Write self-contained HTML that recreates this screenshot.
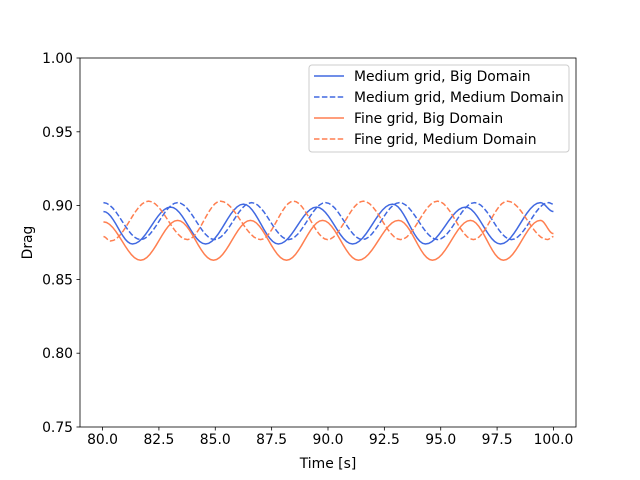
<!DOCTYPE html>
<html><head><meta charset="utf-8"><style>
body{margin:0;background:#fff}
svg{display:block;font-family:"DejaVu Sans","Liberation Sans",sans-serif}
</style></head><body>
<svg id="chart" width="640" height="480" xmlns="http://www.w3.org/2000/svg"></svg>
<script>
const xTicks=[80.0,82.5,85.0,87.5,90.0,92.5,95.0,97.5,100.0];
const yTicks=[0.75,0.80,0.85,0.90,0.95,1.00];
const seriesNames=["Medium grid, Big Domain","Medium grid, Medium Domain","Fine grid, Big Domain","Fine grid, Medium Domain"];
const mbT=[80.04,81.33,83.02,84.57,86.25,87.80,89.49,91.09,92.86,94.32,96.10,97.65,99.42,100.0];
const mbV=[0.896,0.874,0.899,0.874,0.901,0.874,0.899,0.874,0.901,0.874,0.899,0.874,0.902,0.896];
const mmT=[80.04,81.69,83.33,84.97,86.61,88.25,89.89,91.53,93.17,94.86,96.50,98.14,99.78,100.0];
const mmV=[0.902,0.877,0.902,0.877,0.902,0.877,0.902,0.877,0.902,0.877,0.902,0.877,0.902,0.901];
const fbT=[80.04,81.69,83.33,84.92,86.56,88.16,89.76,91.35,93.13,94.63,96.32,97.78,99.42,100.0];
const fbV=[0.889,0.863,0.890,0.863,0.890,0.863,0.890,0.863,0.890,0.863,0.890,0.863,0.890,0.881];
const fmT=[80.04,80.35,82.04,83.77,85.23,87.01,88.47,89.98,91.57,93.22,94.86,96.45,97.96,99.73,100.0];
const fmV=[0.879,0.876,0.903,0.877,0.903,0.877,0.903,0.877,0.903,0.877,0.903,0.877,0.903,0.877,0.879];

const L=80,R=576,T=58,B=427,xmin=79.0,xmax=101.0,ymin=0.75,ymax=1.0;
const sx=v=>L+(v-xmin)/(xmax-xmin)*(R-L);
const sy=v=>B-(v-ymin)/(ymax-ymin)*(B-T);
const svg=document.getElementById('chart');
const NS="http://www.w3.org/2000/svg";
function mk(tag,attrs,parent){const e=document.createElementNS(NS,tag);for(const k in attrs)e.setAttribute(k,attrs[k]);(parent||svg).appendChild(e);return e;}

function pathFor(ts,vs){
  let d="M"+sx(ts[0]).toFixed(2)+","+sy(vs[0]).toFixed(2);
  for(let i=0;i<ts.length-1;i++){
    for(let k=1;k<=12;k++){
      const f=k/12,w=(1-Math.cos(Math.PI*f))/2;
      const t=ts[i]+(ts[i+1]-ts[i])*f, v=vs[i]+(vs[i+1]-vs[i])*w;
      d+=" L"+sx(t).toFixed(2)+","+sy(v).toFixed(2);
    }
  }
  return d;
}
const series=[[mbT,mbV,"#4169e1",""],[mmT,mmV,"#4169e1","5.5,2.4"],[fbT,fbV,"#ff7f50",""],[fmT,fmV,"#ff7f50","5.5,2.4"]];
const ids=["medium-big-line","medium-medium-line","fine-big-line","fine-medium-line"];
series.forEach((s,i)=>{
  const p=mk('path',{d:pathFor(s[0],s[1]),fill:"none",stroke:s[2],"stroke-width":1.5,"stroke-dasharray":s[3]});
  
  
});

const frame=mk('rect',{x:L,y:T,width:R-L,height:B-T,fill:"none",stroke:"#000","stroke-width":0.8});



xTicks.forEach(v=>{
  const x=sx(v);
  mk('line',{x1:x,x2:x,y1:B,y2:B+3.5,stroke:"#000","stroke-width":0.8});
  const t=mk('text',{x:x,y:B+17,"text-anchor":"middle","font-size":"13.9px",fill:"#000"});
  t.textContent=v.toFixed(1);
  
  
});
yTicks.forEach(v=>{
  const y=sy(v);
  mk('line',{x1:L-3.5,x2:L,y1:y,y2:y,stroke:"#000","stroke-width":0.8});
  const t=mk('text',{x:L-7,y:y+5,"text-anchor":"end","font-size":"13.9px",fill:"#000"});
  t.textContent=v.toFixed(2);
  
  
});
const xl=mk('text',{x:(L+R)/2,y:468,"text-anchor":"middle","font-size":"13.9px"});
xl.textContent="Time [s]";


const yl=mk('text',{x:0,y:0,"text-anchor":"middle","font-size":"13.9px",transform:"translate(32,"+((T+B)/2)+") rotate(-90)"});
yl.textContent="Drag";



const lg=mk('g',{});


mk('rect',{x:309,y:65,width:260,height:87,rx:3,fill:"#fff","fill-opacity":0.8,stroke:"#ccc","stroke-width":1},lg);
seriesNames.forEach((n,i)=>{
  const y=76+i*21;
  const g=mk('g',{},lg);
  
  
  mk('line',{x1:314,x2:344,y1:y,y2:y,stroke:series[i][2],"stroke-width":1.5,"stroke-dasharray":series[i][3]},g);
  const t=mk('text',{x:354,y:y+5,"font-size":"13.9px"},g);
  t.textContent=n;
});
</script>
</body></html>
